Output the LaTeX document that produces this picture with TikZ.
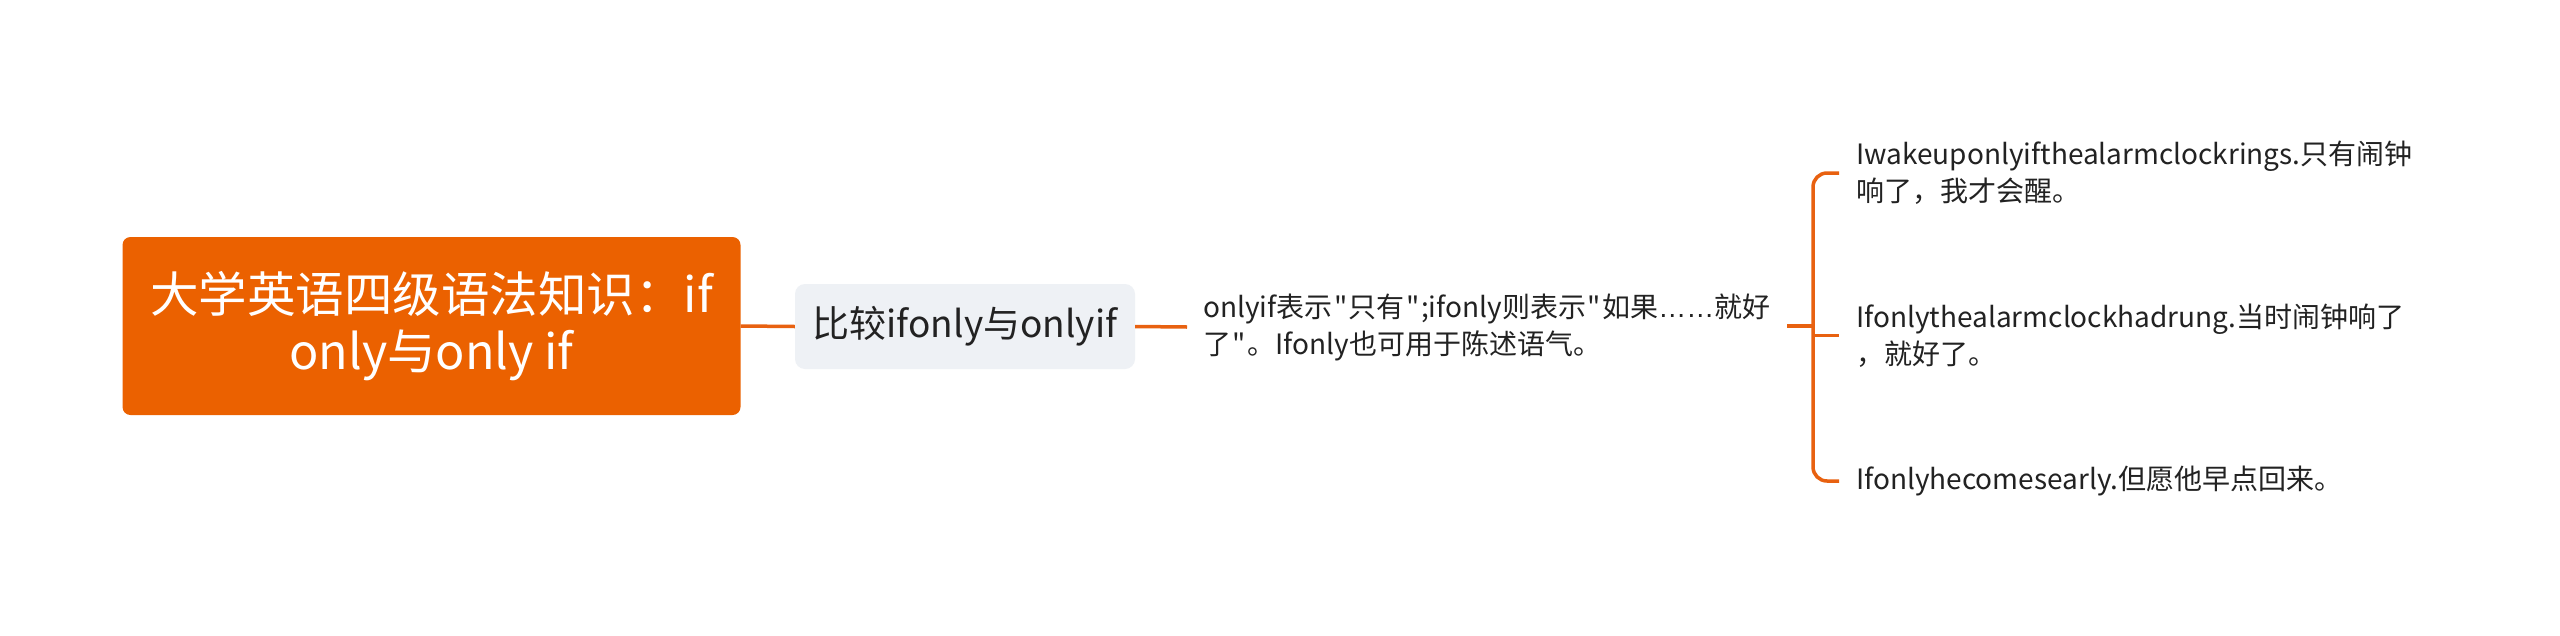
\documentclass[tikz,border=0pt]{standalone}
\usepackage{fontspec}
\setmainfont{Noto Sans CJK SC}
\newfontfamily\ellfont{Liberation Sans}
\font\qfont="Noto Sans CJK SC" at 28pt
\newcommand\dq{\kern1.5pt{\qfont"}\kern1.5pt}
\definecolor{rootor}{HTML}{EB6100}
\definecolor{lineor}{HTML}{E86110}
\definecolor{subfill}{HTML}{EEF1F5}
\definecolor{txt}{HTML}{222222}
\begin{document}
\begin{tikzpicture}[x=1pt,y=-1pt]
\tikzset{
 rootbox/.style={fill=rootor, rounded corners=8pt, minimum width=618pt, minimum height=178pt, text=white, align=center, font=\fontsize{48.5}{57}\selectfont, inner sep=0pt},
 subbox/.style={fill=subfill, rounded corners=10pt, minimum width=340pt, minimum height=85pt, text=txt, font=\fontsize{37}{42}\selectfont, inner sep=0pt},
 plaintext/.style={text=txt, align=left, anchor=west, font=\fontsize{28}{37}\selectfont, inner ysep=0pt},
 conn/.style={draw=lineor, line width=3.5pt},
}
\useasboundingbox (0,0) rectangle (2560,635);
\fill[white] (0,0) rectangle (2560,635);
\node[rootbox] (root) at (431.5,326) {大学英语四级语法知识：if\\only与only if};
\node[subbox] (sub) at (965,326.5) {比较ifonly与onlyif};
\node[plaintext, inner xsep=16pt] (mid) at (1187,327) {onlyif表示\dq 只有\dq;ifonly则表示\dq 如果{\ellfont ……}就好\\了\dq 。Ifonly也可用于陈述语气。};
\node[plaintext, inner xsep=17pt] (l1) at (1839,173) {Iwakeuponlyifthealarmclockrings.只有闹钟\\响了，我才会醒。};
\node[plaintext, inner xsep=17pt] (l2) at (1839,335.5) {Ifonlythealarmclockhadrung.当时闹钟响了\\，就好了。};
\node[plaintext, inner xsep=17pt] (l3) at (1839,481) {Ifonlyhecomesearly.但愿他早点回来。};
\coordinate (st) at (1787,326);
\coordinate (bk) at (1813,326);
\draw[conn] (root.east) -- (sub.west);
\draw[conn] (sub.east) -- (mid.west);
\draw[conn] (st) -- (bk);
\draw[conn, rounded corners=14pt] (l1.west) -| (bk) |- (l3.west);
\draw[conn] (bk |- l2.west) -- (l2.west);
\end{tikzpicture}
\end{document}
